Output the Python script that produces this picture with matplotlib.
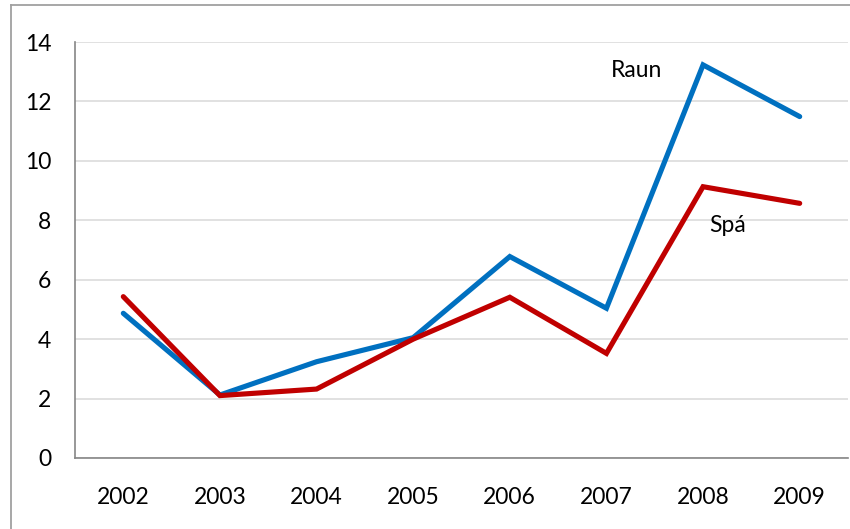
import matplotlib
matplotlib.use("Agg")
import matplotlib.pyplot as plt
from matplotlib.lines import Line2D

years = ["2002", "2003", "2004", "2005", "2006", "2007", "2008", "2009"]
raun = [4.87, 2.12, 3.24, 4.05, 6.78, 5.04, 13.23, 11.49]
spa = [5.43, 2.10, 2.32, 4.00, 5.41, 3.52, 9.13, 8.57]
y_ticks = [0, 2, 4, 6, 8, 10, 12, 14]

plt.rcParams['font.family'] = ['Lato', 'DejaVu Sans']

W, H = 850, 529
fig = plt.figure(figsize=(W / 100, H / 100), dpi=100)
ax = fig.add_axes([75 / W, (H - 458) / H, (848 - 75) / W, (458 - 42) / H])

x = list(range(len(years)))
ax.plot(x, raun, color="#0070C0", lw=3.7, solid_capstyle="round", solid_joinstyle="miter", zorder=3)
ax.plot(x, spa, color="#C00000", lw=3.7, solid_capstyle="round", solid_joinstyle="miter", zorder=3)

ax.set_xlim(-0.5, len(years) - 0.5)
ax.set_ylim(0, 14)
ax.set_xticks(x)
ax.set_xticklabels(years)
ax.set_yticks(y_ticks)
ax.set_yticklabels([str(v) for v in y_ticks])
ax.tick_params(axis="both", length=0, labelsize=16.5, colors="black")
ax.tick_params(axis="y", pad=17)
ax.tick_params(axis="x", pad=21)

ax.yaxis.grid(True, color="#D9D9D9", lw=1.1)
ax.set_axisbelow(True)
for s in ["top", "right"]:
    ax.spines[s].set_visible(False)
for s in ["left", "bottom"]:
    ax.spines[s].set_color("#868686")
    ax.spines[s].set_linewidth(1.2)

ax.text(5.31, 13.03, "Raun", ha="center", va="center", fontsize=16.5)
ax.text(6.25, 7.84, "Spá", ha="center", va="center", fontsize=16.5)

# outer chart-area border (left and top visible)
fig.add_artist(Line2D([10.5 / W, 10.5 / W], [0, (H - 5) / H], transform=fig.transFigure,
                      color="#A0A0A0", lw=1.3))
fig.add_artist(Line2D([10.5 / W, 1], [(H - 5) / H, (H - 5) / H], transform=fig.transFigure,
                      color="#A0A0A0", lw=1.3))

fig.savefig("out.png", dpi=100)
